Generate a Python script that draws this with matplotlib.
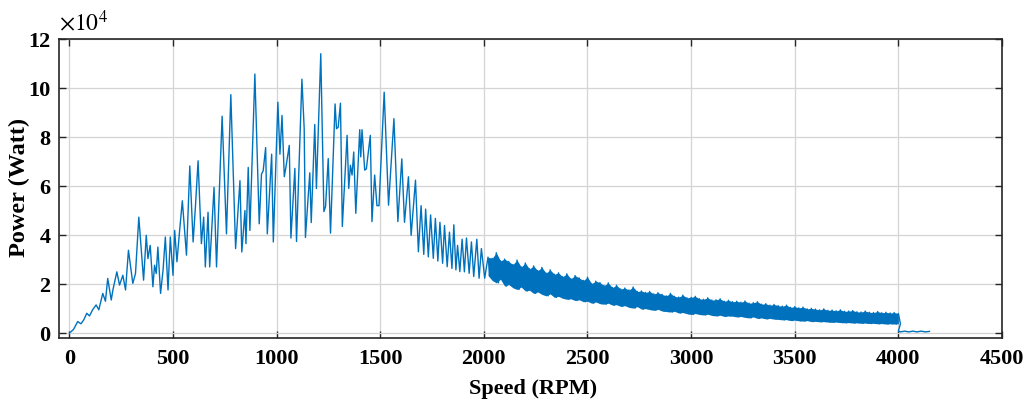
import numpy as np
import matplotlib
matplotlib.use("Agg")
import matplotlib.pyplot as plt

plt.rcParams['font.family'] = ['Liberation Serif', 'DejaVu Serif']
plt.rcParams['mathtext.fontset'] = 'stix'

# Power curve, power in units of 1e4 W
# low-speed part: individual peaks and valleys
speed_lo = [0, 20, 40, 56, 70, 84, 97, 112, 129, 142, 161, 174, 185, 202, 210, 229, 242, 258, 271, 285,
            306, 319, 335, 358, 371, 379, 390, 403, 411, 419, 427, 440, 452, 463, 476, 487, 500, 508, 519, 532,
            545, 565, 581, 597, 608, 621, 637, 648, 656, 669, 677, 698, 710, 737, 758, 779, 802, 823, 832, 847,
            852, 863, 871, 895, 916, 927, 935, 947, 955, 976, 984, 1006, 1016, 1026, 1037, 1045, 1061, 1069, 1088, 1096,
            1122, 1133, 1139, 1160, 1167, 1184, 1192, 1213, 1228, 1236, 1249, 1260, 1282, 1289, 1297, 1308, 1317, 1340, 1348, 1356,
            1364, 1372, 1382, 1401, 1406, 1412, 1425, 1433, 1452, 1460, 1473, 1484, 1494, 1519, 1540, 1566, 1585, 1604, 1617, 1636,
            1649, 1670, 1684, 1697, 1710, 1719, 1732, 1743, 1756, 1766, 1778, 1788, 1801, 1810, 1823, 1834, 1846, 1855, 1865, 1873,
            1884, 1895, 1906, 1916, 1929, 1940, 1951, 1966, 1977, 1988, 2004]
power_lo = [0.0, 0.15, 0.47, 0.38, 0.55, 0.81, 0.70, 0.95, 1.15, 0.95, 1.62, 1.30, 2.23, 1.35, 1.76, 2.50, 1.96, 2.36, 1.76, 3.38,
            2.03, 2.43, 4.73, 2.16, 3.99, 3.04, 3.58, 1.89, 2.77, 2.43, 3.51, 1.62, 2.57, 3.92, 1.76, 3.92, 2.36, 4.19, 2.91, 4.19,
            5.40, 3.18, 6.82, 3.72, 5.13, 7.03, 3.65, 4.73, 2.70, 4.93, 2.70, 5.95, 2.70, 8.85, 4.05, 9.73, 3.45, 6.22, 3.31, 5.00,
            3.65, 6.76, 4.19, 10.57, 4.46, 6.49, 6.62, 7.57, 4.05, 7.30, 3.72, 9.42, 7.30, 8.88, 6.38, 6.78, 7.66, 3.88, 6.72, 3.74,
            10.36, 8.34, 3.90, 6.54, 4.51, 8.51, 5.90, 11.40, 4.96, 5.16, 7.12, 4.08, 9.35, 8.34, 8.40, 9.38, 4.35, 8.07, 5.90, 6.85,
            6.45, 7.39, 4.89, 8.30, 7.19, 8.30, 6.65, 6.70, 8.07, 4.55, 6.45, 5.20, 5.20, 9.83, 5.22, 8.75, 4.55, 7.11, 4.52, 6.38,
            3.99, 6.24, 3.32, 5.20, 3.21, 5.06, 3.11, 4.82, 3.05, 4.68, 2.94, 4.52, 2.85, 4.39, 2.71, 4.12, 2.64, 4.42, 2.58, 3.58,
            2.51, 3.83, 2.50, 3.88, 2.44, 3.72, 2.31, 3.83, 2.24, 3.45, 2.24]

# high-speed part: dense oscillation, upper and lower edge of the band every 20 RPM from 2020 to 4000
band_start, band_step = 2020, 20
band_hi = [3.10, 3.05, 3.28, 2.95, 3.02, 2.92, 2.80, 2.98, 2.70, 2.86,
           2.62, 2.74, 2.55, 2.68, 2.45, 2.58, 2.40, 2.46, 2.30, 2.42,
           2.22, 2.35, 2.25, 2.15, 2.28, 2.02, 2.12, 2.06, 1.94, 2.05,
           1.86, 1.95, 1.80, 1.84, 1.76, 1.88, 1.70, 1.72, 1.66, 1.70,
           1.60, 1.65, 1.58, 1.52, 1.62, 1.50, 1.47, 1.55, 1.44, 1.46,
           1.50, 1.40, 1.38, 1.44, 1.35, 1.36, 1.40, 1.30, 1.34, 1.28,
           1.30, 1.26, 1.31, 1.22, 1.24, 1.28, 1.18, 1.20, 1.14, 1.17,
           1.12, 1.10, 1.14, 1.05, 1.08, 1.03, 1.06, 0.99, 1.01, 0.98,
           0.95, 0.99, 0.93, 0.94, 0.91, 0.95, 0.89, 0.90, 0.92, 0.87,
           0.86, 0.90, 0.85, 0.84, 0.88, 0.83, 0.85, 0.82, 0.84, 0.80]
band_lo = [2.35, 2.15, 2.05, 2.20, 1.92, 1.98, 1.85, 1.78, 1.88, 1.72,
           1.75, 1.62, 1.68, 1.58, 1.52, 1.60, 1.46, 1.50, 1.42, 1.38,
           1.40, 1.33, 1.36, 1.28, 1.30, 1.22, 1.27, 1.20, 1.18, 1.22,
           1.14, 1.16, 1.09, 1.12, 1.05, 1.02, 1.08, 0.98, 1.00, 0.96,
           0.93, 0.97, 0.90, 0.88, 0.86, 0.89, 0.82, 0.84, 0.79, 0.76,
           0.80, 0.76, 0.74, 0.77, 0.72, 0.70, 0.73, 0.68, 0.70, 0.69,
           0.66, 0.68, 0.64, 0.62, 0.66, 0.60, 0.62, 0.58, 0.60, 0.57,
           0.56, 0.54, 0.55, 0.51, 0.53, 0.50, 0.49, 0.51, 0.47, 0.48,
           0.46, 0.47, 0.45, 0.44, 0.45, 0.43, 0.42, 0.43, 0.41, 0.42,
           0.40, 0.41, 0.39, 0.40, 0.38, 0.39, 0.37, 0.38, 0.37, 0.38]

# after 4000 RPM: drop to a flat low level
speed_tail = [4000, 4010, 4030, 4050, 4070, 4090, 4110, 4130, 4150]
power_tail = [0.08, 0.05, 0.08, 0.05, 0.08, 0.05, 0.08, 0.05, 0.07]

xticks = [0, 500, 1000, 1500, 2000, 2500, 3000, 3500, 4000, 4500]
yticks = [0, 2, 4, 6, 8, 10, 12]

line_color = '#0072BD'

# put the pieces together (band: upper edge then lower edge, alternating)
band_speed = band_start + band_step * np.arange(len(band_hi))
band_x = np.column_stack([band_speed, band_speed + band_step / 2]).ravel()
band_y = np.column_stack([band_hi, band_lo]).ravel()
speed = np.concatenate([speed_lo, band_x, speed_tail])
power = np.concatenate([power_lo, band_y, power_tail])

fig = plt.figure(figsize=(10.3, 4.05), dpi=100)
ax = fig.add_axes([0.0573, 0.1654, 0.9155, 0.7383])

# the densely sampled band shows up as a solid strip
ax.fill_between(band_speed, band_lo, band_hi, color=line_color, lw=0)
ax.plot(speed, power, color=line_color, lw=1.0)

ax.set_xlim(-50, 4500)
ax.set_ylim(-0.2, 12)
ax.set_xticks(xticks)
ax.set_yticks(yticks)
ax.grid(True, color='#d4d4d4', lw=0.9)
ax.set_axisbelow(True)
ax.tick_params(direction='in', length=5, width=1, top=True, right=True,
               labelsize=16, colors='#262626', labelcolor='black')
ax.tick_params(axis='x', pad=8)
ax.tick_params(axis='y', pad=6)
for lab in ax.get_xticklabels() + ax.get_yticklabels():
    lab.set_fontweight('bold')
for sp in ax.spines.values():
    sp.set_linewidth(1.2)
    sp.set_color('#262626')

ax.set_xlabel('Speed (RPM)', fontsize=16, fontweight='bold')
ax.set_ylabel('Power (Watt)', fontsize=17.5, fontweight='bold')
ax.xaxis.set_label_coords(0.503, -0.137)
ax.yaxis.set_label_coords(-0.031, 0.505)
ax.text(0.0, 1.01, r'$\times10^{4}$', transform=ax.transAxes, fontsize=17,
        ha='left', va='bottom')

fig.savefig('out.png', dpi=100)
